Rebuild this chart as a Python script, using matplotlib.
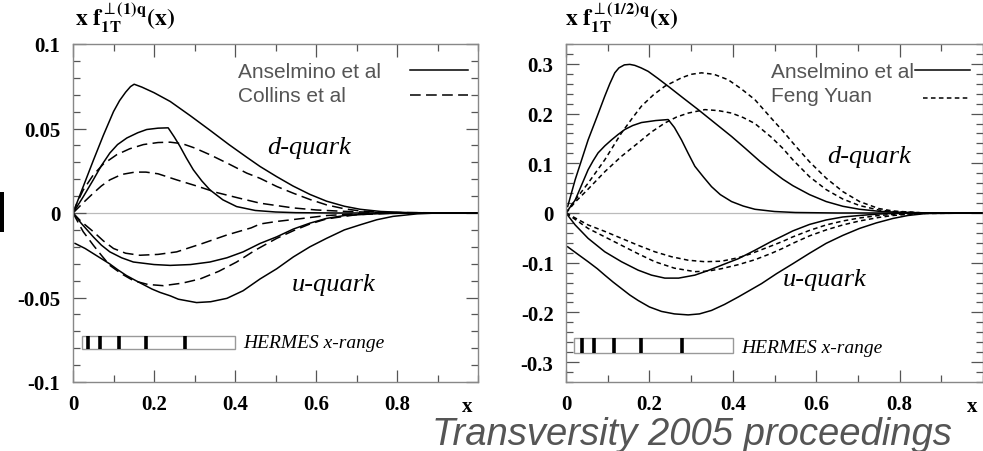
import matplotlib
matplotlib.use('Agg')
import matplotlib.pyplot as plt
from matplotlib.patches import Rectangle
from matplotlib.ticker import MultipleLocator

plt.rcParams['mathtext.fontset'] = 'stix'

# ---- left panel: x f_1T^(1)q  (Anselmino solid, Collins dashed) ----
x_ans_d1 = [0, 0.025, 0.05, 0.075, 0.1, 0.115, 0.13, 0.142, 0.151, 0.17, 0.2, 0.24, 0.29, 0.338, 0.385, 0.429,
            0.462, 0.503, 0.543, 0.585, 0.626, 0.67, 0.709, 0.76, 0.82, 0.9, 1.0]
y_ans_d1 = [0, 0.0155, 0.031, 0.046, 0.060, 0.0665, 0.0715, 0.0748, 0.0762, 0.0745, 0.0712, 0.066, 0.0575, 0.049,
            0.0405, 0.033, 0.0275, 0.0215, 0.016, 0.011, 0.007, 0.004, 0.0022, 0.0009, 0.0003, 0, 0]
x_ans_d2 = [0, 0.025, 0.05, 0.07, 0.091, 0.11, 0.133, 0.16, 0.182, 0.21, 0.235, 0.25, 0.264, 0.28, 0.297, 0.318,
            0.338, 0.37, 0.404, 0.45, 0.5, 0.55, 0.65, 1.0]
y_ans_d2 = [0, 0.0095, 0.0196, 0.028, 0.0355, 0.0405, 0.0444, 0.0475, 0.0494, 0.0502, 0.0504, 0.045, 0.0395,
            0.0325, 0.0256, 0.019, 0.0137, 0.0078, 0.0038, 0.0015, 0.0006, 0.0002, 0, 0]
x_col_d1 = [0, 0.01, 0.025, 0.05, 0.075, 0.108, 0.14, 0.174, 0.21, 0.24, 0.27, 0.3, 0.338, 0.385, 0.429, 0.462,
            0.503, 0.544, 0.585, 0.626, 0.67, 0.709, 0.76, 0.85, 1.0]
y_col_d1 = [0, 0.006, 0.0135, 0.0225, 0.029, 0.0345, 0.038, 0.0405, 0.0417, 0.0419, 0.041, 0.0385, 0.0345, 0.029,
            0.0236, 0.0205, 0.0157, 0.0117, 0.008, 0.0048, 0.0025, 0.0012, 0.0004, 0, 0]
x_col_d2 = [0, 0.025, 0.05, 0.07, 0.091, 0.12, 0.153, 0.18, 0.21, 0.256, 0.305, 0.355, 0.41, 0.462, 0.544, 0.6,
            0.667, 0.75, 1.0]
y_col_d2 = [0, 0.006, 0.0117, 0.016, 0.0196, 0.0228, 0.0242, 0.0242, 0.0232, 0.0196, 0.016, 0.0121, 0.0088,
            0.0058, 0.003, 0.0018, 0.001, 0.0003, 0]
x_col_u1 = [0, 0.02, 0.05, 0.075, 0.1, 0.13, 0.165, 0.21, 0.256, 0.32, 0.38, 0.44, 0.462, 0.503, 0.55, 0.626,
            0.7, 0.8, 1.0]
y_col_u1 = [0, -0.005, -0.011, -0.0165, -0.021, -0.0238, -0.025, -0.0245, -0.023, -0.018, -0.013, -0.0088,
            -0.0065, -0.005, -0.0037, -0.0015, -0.0005, 0, 0]
x_ans_u1 = [0, 0.02, 0.05, 0.07, 0.091, 0.12, 0.149, 0.2, 0.24, 0.29, 0.338, 0.38, 0.42, 0.462, 0.503, 0.544,
            0.585, 0.626, 0.67, 0.75, 0.85, 1.0]
y_ans_u1 = [0, -0.006, -0.0141, -0.019, -0.023, -0.0265, -0.029, -0.0305, -0.031, -0.0305, -0.029, -0.0265,
            -0.023, -0.018, -0.0141, -0.0095, -0.006, -0.0032, -0.0015, -0.0004, 0, 0]
x_col_u2 = [0, 0.025, 0.05, 0.07, 0.091, 0.12, 0.149, 0.185, 0.223, 0.27, 0.314, 0.36, 0.404, 0.45, 0.503, 0.544,
            0.585, 0.626, 0.7, 0.8, 1.0]
y_col_u2 = [0, -0.011, -0.019, -0.025, -0.031, -0.036, -0.040, -0.0423, -0.043, -0.0415, -0.039, -0.0345,
            -0.029, -0.022, -0.015, -0.0105, -0.0065, -0.0035, -0.001, 0, 0]
x_ans_u2 = [0.005, 0.03, 0.05, 0.07, 0.09, 0.11, 0.132, 0.155, 0.175, 0.195, 0.215, 0.24, 0.26, 0.305, 0.34,
            0.38, 0.42, 0.462, 0.503, 0.544, 0.585, 0.626, 0.67, 0.709, 0.75, 0.79, 0.85, 0.9, 1.0]
y_ans_u2 = [-0.018, -0.021, -0.024, -0.027, -0.030, -0.0335, -0.037, -0.040, -0.0425, -0.045, -0.047, -0.049,
            -0.051, -0.053, -0.0525, -0.0505, -0.046, -0.039, -0.033, -0.026, -0.020, -0.015, -0.010, -0.007,
            -0.004, -0.002, -0.0005, 0, 0]

# ---- right panel: x f_1T^(1/2)q  (Anselmino solid, Feng Yuan dashed) ----
x_ans_d1r = [0.004, 0.022, 0.053, 0.075, 0.093, 0.105, 0.117, 0.127, 0.14, 0.153, 0.165, 0.18, 0.197, 0.22,
             0.245, 0.28, 0.317, 0.357, 0.397, 0.43, 0.465, 0.493, 0.52, 0.544, 0.584, 0.624, 0.664, 0.704,
             0.75, 0.784, 0.85, 0.9, 1.0]
y_ans_d1r = [0.013, 0.067, 0.147, 0.195, 0.235, 0.26, 0.282, 0.292, 0.298, 0.299, 0.297, 0.292, 0.285, 0.271,
             0.255, 0.232, 0.208, 0.181, 0.154, 0.13, 0.104, 0.085, 0.068, 0.055, 0.037, 0.023, 0.0135, 0.0075,
             0.0035, 0.002, 0.0005, 0, 0]
x_ans_d2r = [0, 0.022, 0.053, 0.065, 0.077, 0.093, 0.109, 0.125, 0.141, 0.16, 0.181, 0.215, 0.245, 0.26, 0.277,
             0.293, 0.309, 0.33, 0.349, 0.37, 0.397, 0.425, 0.453, 0.5, 0.55, 0.65, 1.0]
y_ans_d2r = [0, 0.026, 0.087, 0.105, 0.121, 0.135, 0.147, 0.158, 0.168, 0.176, 0.182, 0.186, 0.188, 0.172,
             0.147, 0.12, 0.094, 0.072, 0.053, 0.037, 0.023, 0.014, 0.0075, 0.003, 0.001, 0, 0]
x_fy_d1r = [0, 0.022, 0.053, 0.093, 0.133, 0.16, 0.181, 0.21, 0.237, 0.277, 0.3, 0.325, 0.355, 0.389, 0.42,
            0.453, 0.493, 0.52, 0.544, 0.584, 0.624, 0.664, 0.704, 0.75, 0.784, 0.85, 1.0]
y_fy_d1r = [0, 0.026, 0.06, 0.107, 0.161, 0.192, 0.215, 0.238, 0.255, 0.272, 0.279, 0.282, 0.279, 0.268, 0.25,
            0.228, 0.19, 0.165, 0.141, 0.103, 0.07, 0.043, 0.023, 0.009, 0.004, 0.0005, 0]
x_fy_d2r = [0, 0.022, 0.053, 0.093, 0.133, 0.173, 0.205, 0.237, 0.265, 0.293, 0.333, 0.365, 0.397, 0.425,
            0.453, 0.493, 0.52, 0.544, 0.584, 0.624, 0.664, 0.704, 0.75, 0.784, 0.85, 1.0]
y_fy_d2r = [0, 0.022, 0.048, 0.083, 0.114, 0.141, 0.163, 0.181, 0.193, 0.201, 0.208, 0.206, 0.201, 0.192, 0.18,
            0.152, 0.13, 0.107, 0.073, 0.047, 0.028, 0.015, 0.006, 0.003, 0.0005, 0]
x_fy_u1r = [0, 0.053, 0.093, 0.133, 0.173, 0.213, 0.253, 0.293, 0.333, 0.373, 0.413, 0.44, 0.465, 0.493, 0.52,
            0.544, 0.584, 0.624, 0.664, 0.704, 0.75, 0.784, 0.85, 1.0]
y_fy_u1r = [0, -0.024, -0.037, -0.051, -0.065, -0.078, -0.088, -0.095, -0.098, -0.097, -0.09, -0.083, -0.075,
            -0.066, -0.057, -0.048, -0.035, -0.024, -0.016, -0.010, -0.005, -0.003, -0.0005, 0]
x_fy_u2r = [0, 0.053, 0.093, 0.133, 0.173, 0.213, 0.26, 0.309, 0.34, 0.373, 0.413, 0.453, 0.493, 0.52, 0.544,
            0.584, 0.624, 0.664, 0.704, 0.75, 0.784, 0.85, 1.0]
y_fy_u2r = [0, -0.031, -0.048, -0.065, -0.082, -0.098, -0.111, -0.118, -0.117, -0.112, -0.104, -0.094, -0.081,
            -0.071, -0.061, -0.046, -0.034, -0.024, -0.016, -0.009, -0.005, -0.001, 0]
x_ans_u1r = [0, 0.022, 0.053, 0.093, 0.133, 0.173, 0.205, 0.237, 0.27, 0.309, 0.34, 0.373, 0.413, 0.453, 0.493,
             0.52, 0.544, 0.584, 0.624, 0.664, 0.704, 0.75, 0.784, 0.85, 1.0]
y_ans_u1r = [0, -0.024, -0.051, -0.078, -0.098, -0.115, -0.125, -0.131, -0.131, -0.125, -0.116, -0.105, -0.092,
             -0.075, -0.057, -0.046, -0.036, -0.023, -0.014, -0.008, -0.005, -0.002, -0.001, 0, 0]
x_ans_u2r = [0.004, 0.03, 0.053, 0.075, 0.093, 0.113, 0.133, 0.153, 0.173, 0.2, 0.229, 0.26, 0.293, 0.32, 0.349,
             0.38, 0.413, 0.44, 0.469, 0.505, 0.544, 0.584, 0.624, 0.664, 0.704, 0.744, 0.784, 0.82, 0.864, 1.0]
y_ans_u2r = [-0.068, -0.084, -0.098, -0.112, -0.125, -0.139, -0.152, -0.165, -0.176, -0.189, -0.198, -0.203,
             -0.205, -0.203, -0.196, -0.184, -0.169, -0.156, -0.142, -0.122, -0.102, -0.081, -0.061, -0.045,
             -0.031, -0.02, -0.011, -0.005, -0.001, 0]

# HERMES x-range bins
hermes_bins = [0.038, 0.067, 0.114, 0.18, 0.277]
hermes_hi = 0.4

xticks = [0, 0.2, 0.4, 0.6, 0.8]
xticklabels = ['0', '0.2', '0.4', '0.6', '0.8']
yticks_l = [-0.1, -0.05, 0, 0.05, 0.1]
yticklabels_l = ['-0.1', '-0.05', '0', '0.05', '0.1']
yticks_r = [-0.3, -0.2, -0.1, 0, 0.1, 0.2, 0.3]
yticklabels_r = ['-0.3', '-0.2', '-0.1', '0', '0.1', '0.2', '0.3']

serif = 'Liberation Serif'
sans = 'Liberation Sans'
gray = '#888888'
lw = 1.1
long_dash = (0, (7, 3.5))
short_dash = (0, (3, 2.2))

fig = plt.figure(figsize=(9.83, 4.52), dpi=100)
axL = fig.add_axes([73/983, 1-383/452, 405/983, 338/452])
axR = fig.add_axes([566/983, 1-383/452, 417/983, 338/452])


def style_axes(ax, yticks, ylabels, ymin, ymax, yminor):
    ax.set_xlim(0, 1)
    ax.set_ylim(ymin, ymax)
    ax.axhline(0, color='#bbbbbb', lw=0.9, zorder=0)
    ax.set_xticks(xticks)
    ax.set_xticklabels(xticklabels, fontfamily=serif, fontweight='bold', fontsize=15)
    ax.set_yticks(yticks)
    ax.set_yticklabels(ylabels, fontfamily=serif, fontweight='bold', fontsize=15)
    ax.xaxis.set_minor_locator(MultipleLocator(0.1))
    ax.yaxis.set_minor_locator(MultipleLocator(yminor))
    ax.tick_params(which='both', direction='in', top=True, right=True, color='#555555', width=0.9)
    ax.tick_params(which='major', length=9)
    ax.tick_params(which='minor', length=5)
    ax.tick_params(axis='y', pad=9)
    ax.tick_params(axis='x', pad=9)
    for s in ax.spines.values():
        s.set_color(gray)
        s.set_linewidth(1.0)
    ax.text(0.973, -0.072, 'x', transform=ax.transAxes, fontfamily=serif, fontweight='bold',
            fontsize=15, ha='center', va='center')


style_axes(axL, yticks_l, yticklabels_l, -0.1, 0.1, 0.01)
style_axes(axR, yticks_r, yticklabels_r, -0.34, 0.34, 0.02)

# left curves
axL.plot(x_ans_d1, y_ans_d1, color='black', lw=lw)
axL.plot(x_ans_d2, y_ans_d2, color='black', lw=lw)
axL.plot(x_ans_u1, y_ans_u1, color='black', lw=lw)
axL.plot(x_ans_u2, y_ans_u2, color='black', lw=lw)
axL.plot(x_col_d1, y_col_d1, color='black', lw=lw, linestyle=long_dash)
axL.plot(x_col_d2, y_col_d2, color='black', lw=lw, linestyle=long_dash)
axL.plot(x_col_u1, y_col_u1, color='black', lw=lw, linestyle=long_dash)
axL.plot(x_col_u2, y_col_u2, color='black', lw=lw, linestyle=long_dash)

# right curves
axR.plot(x_ans_d1r, y_ans_d1r, color='black', lw=lw)
axR.plot(x_ans_d2r, y_ans_d2r, color='black', lw=lw)
axR.plot(x_ans_u1r, y_ans_u1r, color='black', lw=lw)
axR.plot(x_ans_u2r, y_ans_u2r, color='black', lw=lw)
axR.plot(x_fy_d1r, y_fy_d1r, color='black', lw=lw, linestyle=short_dash)
axR.plot(x_fy_d2r, y_fy_d2r, color='black', lw=lw, linestyle=short_dash)
axR.plot(x_fy_u1r, y_fy_u1r, color='black', lw=lw, linestyle=short_dash)
axR.plot(x_fy_u2r, y_fy_u2r, color='black', lw=lw, linestyle=short_dash)


# HERMES boxes
def hermes(ax, lo, ybot, ytop, tx, ty):
    ax.add_patch(Rectangle((lo, ybot), hermes_hi - lo, ytop - ybot, facecolor='white',
                           edgecolor='#999999', lw=1.0, zorder=3))
    ax.vlines(hermes_bins, ybot, ytop, color='black', lw=2.6, zorder=4)
    ax.text(tx, ty, 'HERMES x-range', fontfamily=serif, fontstyle='italic', fontsize=14,
            va='center', ha='left')


hermes(axL, 0.022, -0.0804, -0.0726, 0.42, -0.0768)
hermes(axR, 0.019, -0.281, -0.252, 0.421, -0.27)

# legends drawn by hand
legend_gray = '#555555'
axL.text(0.407, 0.92, 'Anselmino et al', transform=axL.transAxes, fontfamily=sans, fontsize=15,
         color=legend_gray, va='center')
axL.text(0.407, 0.849, 'Collins et al', transform=axL.transAxes, fontfamily=sans, fontsize=15,
         color=legend_gray, va='center')
axL.plot([0.832, 0.975], [0.922, 0.922], transform=axL.transAxes, color='black', lw=lw)
axL.plot([0.832, 0.975], [0.849, 0.849], transform=axL.transAxes, color='black', lw=lw, linestyle=long_dash)

axR.text(0.491, 0.92, 'Anselmino et al', transform=axR.transAxes, fontfamily=sans, fontsize=15,
         color=legend_gray, va='center')
axR.text(0.491, 0.849, 'Feng Yuan', transform=axR.transAxes, fontfamily=sans, fontsize=15,
         color=legend_gray, va='center')
axR.plot([0.837, 0.969], [0.923, 0.923], transform=axR.transAxes, color='black', lw=lw)
axR.plot([0.856, 0.969], [0.84, 0.84], transform=axR.transAxes, color='black', lw=lw, linestyle=short_dash)

# quark labels
for ax, xd, yd, xu, yu in [(axL, 0.479, 0.695, 0.541, 0.29), (axR, 0.626, 0.669, 0.52, 0.305)]:
    ax.text(xd, yd, 'd-quark', transform=ax.transAxes, fontfamily=serif, fontstyle='italic',
            fontsize=19, va='center')
    ax.text(xu, yu, 'u-quark', transform=ax.transAxes, fontfamily=serif, fontstyle='italic',
            fontsize=19, va='center')

# y-axis titles above the frames
axL.text(0.004, 1.03, r'$\mathbf{x\ f}_{\mathbf{1T}}^{\perp\mathbf{(1)q}}\mathbf{(x)}$', transform=axL.transAxes,
         fontsize=17, va='bottom', ha='left')
axR.text(-0.002, 1.03, r'$\mathbf{x\ f}_{\mathbf{1T}}^{\perp\mathbf{(1/2)q}}\mathbf{(x)}$', transform=axR.transAxes,
         fontsize=17, va='bottom', ha='left')

# small black bar at the left edge of the slide
fig.patches.append(Rectangle((0, 1-233/452), 4/983, 40/452, transform=fig.transFigure,
                             facecolor='black', edgecolor='none'))

fig.text(432/983, 1-445/452, 'Transversity 2005 proceedings', fontfamily=sans, fontstyle='italic',
         fontsize=27.5, color='#555555', va='baseline', ha='left')

fig.savefig('out.png', dpi=100)
